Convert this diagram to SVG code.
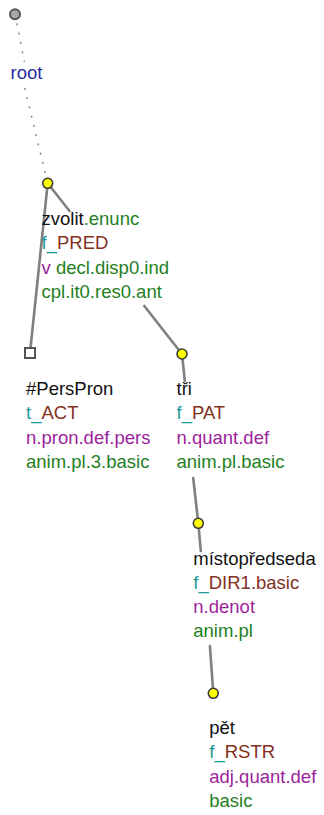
<svg xmlns="http://www.w3.org/2000/svg" width="324" height="815" viewBox="0 0 324 815">
<style>
text{font-family:"Liberation Sans",Arial,sans-serif;font-size:18.5px}
.k{fill:#111}.g{fill:#1f7f1f}.t{fill:#1f9a9a}.b{fill:#84301f}.p{fill:#9b1f9b}.r{fill:#2a2a9f}
.e{stroke:#808080;stroke-width:2.6;fill:none;stroke-linecap:round}
.d{stroke:#8a8a8a;stroke-width:1.5;fill:none;stroke-dasharray:2 7.5}
.y{fill:#ffff00;stroke:#3a3a3a;stroke-width:1.6}
</style>
<rect width="324" height="815" fill="#fff"/>
<g id="connectors">
<path class="d" d="M15,14 L24.5,62 M24.7,88 L47.7,183.3"/>
<path class="e" d="M47.7,183.3 L30,353"/>
<path class="e" d="M47.7,183.3 L69.5,211 M144.3,306 L182,354"/>
<path class="e" d="M182,354 L184.8,381 M193.2,478 L198.3,523.3"/>
<path class="e" d="M198.3,523.3 L200.8,551 M209.9,646 L213.3,693.3"/>
</g>
<g id="root">
<circle cx="15" cy="14.3" r="5" fill="#a8a8a8" stroke="#555" stroke-width="2"/>
<text x="10.5" y="79"><tspan class="r">root</tspan></text>
</g>
<g id="zvolit">
<circle class="y" cx="47.7" cy="183.3" r="5"/>
<text x="41.5" y="225"><tspan class="k">zvolit</tspan><tspan class="g">.enunc</tspan></text>
<text x="41.5" y="249.3"><tspan class="t">f_</tspan><tspan class="b">PRED</tspan></text>
<text x="41.5" y="273.6"><tspan class="p">v</tspan><tspan class="g"> decl.disp0.ind</tspan></text>
<text x="41.5" y="297.9"><tspan class="g">cpl.it0.res0.ant</tspan></text>
</g>
<g id="perspron">
<rect x="25" y="348" width="10" height="10" fill="#fff" stroke="#555" stroke-width="2"/>
<text x="26" y="395"><tspan class="k">#PersPron</tspan></text>
<text x="26" y="419.3"><tspan class="t">t_</tspan><tspan class="b">ACT</tspan></text>
<text x="26" y="443.6"><tspan class="p">n.pron.def.pers</tspan></text>
<text x="26" y="467.9"><tspan class="g">anim.pl.3.basic</tspan></text>
</g>
<g id="tri">
<circle class="y" cx="182" cy="354" r="5"/>
<text x="176.5" y="395"><tspan class="k">tři</tspan></text>
<text x="176.5" y="419.3"><tspan class="t">f_</tspan><tspan class="b">PAT</tspan></text>
<text x="176.5" y="443.6"><tspan class="p">n.quant.def</tspan></text>
<text x="176.5" y="467.9"><tspan class="g">anim.pl.basic</tspan></text>
</g>
<g id="mistopredseda">
<circle class="y" cx="198.3" cy="523.3" r="5"/>
<text x="193.3" y="564.5"><tspan class="k">místopředseda</tspan></text>
<text x="193.3" y="588.6"><tspan class="t">f_</tspan><tspan class="b">DIR1.basic</tspan></text>
<text x="193.3" y="612.7"><tspan class="p">n.denot</tspan></text>
<text x="193.3" y="636.8"><tspan class="g">anim.pl</tspan></text>
</g>
<g id="pet">
<circle class="y" cx="213.3" cy="693.3" r="5"/>
<text x="209.3" y="734.3"><tspan class="k">pět</tspan></text>
<text x="209.3" y="758.4"><tspan class="t">f_</tspan><tspan class="b">RSTR</tspan></text>
<text x="209.3" y="782.5"><tspan class="p">adj.quant.def</tspan></text>
<text x="209.3" y="806.6"><tspan class="g">basic</tspan></text>
</g>
</svg>
